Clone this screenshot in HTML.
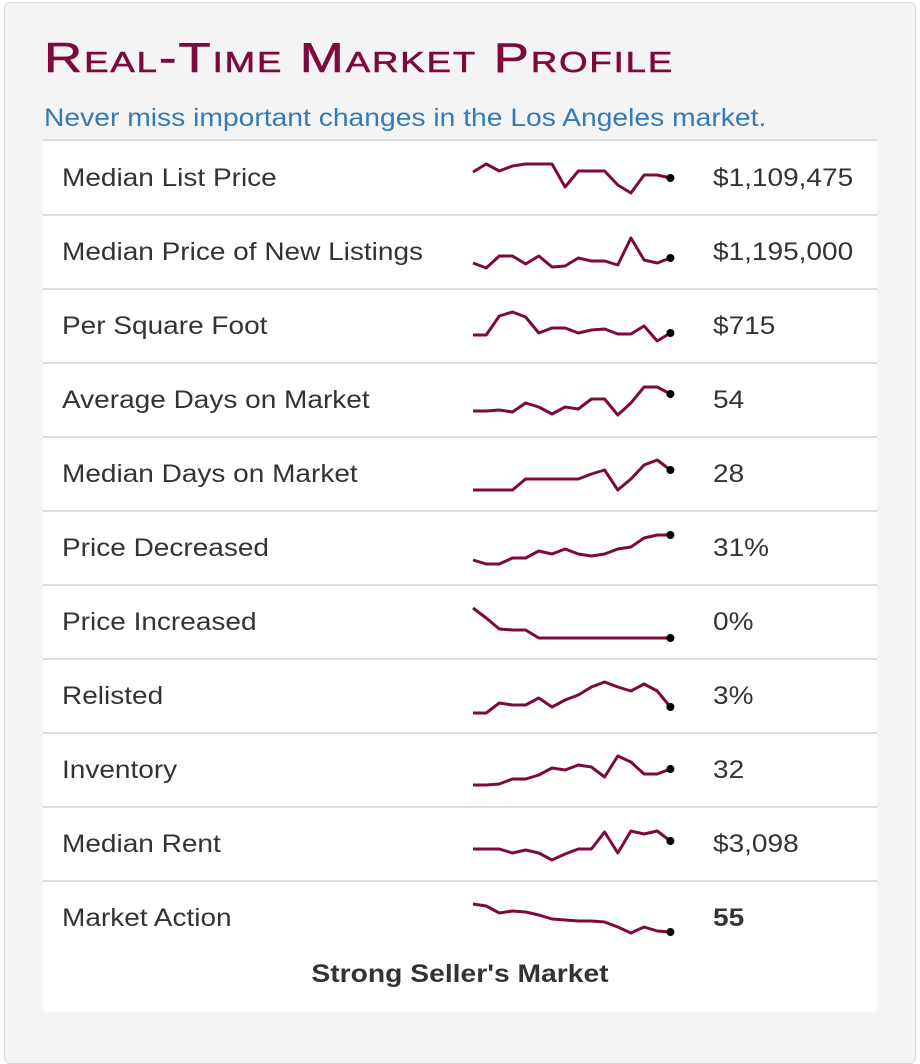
<!DOCTYPE html>
<html><head><meta charset="utf-8">
<style>
body{margin:0;width:920px;height:1046px;background:#fff;font-family:"Liberation Sans",sans-serif;overflow:hidden;position:relative}
#panel{position:absolute;left:4px;top:2px;width:910px;height:1060px;background:#f4f4f4;border:1px solid #ddd;border-radius:6px}
#title{position:absolute;left:44px;top:34px;font-size:42px;color:#7c0a3c;font-variant:small-caps;letter-spacing:1.5px;font-weight:normal;white-space:nowrap;transform:scaleX(1.26);transform-origin:left;-webkit-text-stroke:0.6px #7c0a3c}
#sub{position:absolute;left:44px;top:104px;font-size:25px;color:#337ab7;white-space:nowrap;transform:scaleX(1.13);transform-origin:left}
#card{position:absolute;left:43px;top:139px;width:834px;height:871px;background:#fff;border-top:2px solid #ddd;border-radius:0 0 6px 6px}
.row{position:absolute;left:0;width:834px;height:73px;border-bottom:2px solid #ddd}
.lab{position:absolute;left:19px;top:23px;font-size:25px;color:#333;white-space:nowrap;transform:scaleX(1.12);transform-origin:left}
.val{position:absolute;left:670px;top:23px;font-size:25px;color:#333;white-space:nowrap;transform:scaleX(1.12);transform-origin:left}
#foot{position:absolute;left:0;width:834px;top:819px;text-align:center;font-size:25px;font-weight:bold;color:#333;transform:scaleX(1.13)}
svg{position:absolute;left:0;top:0}
</style></head><body>
<div id="panel"></div>
<div id="title">Real-Time Market Profile</div>
<div id="sub">Never miss important changes in the Los Angeles market.</div>
<div id="card"><div id="foot">Strong Seller's Market</div></div>
<script>
const labels=["Median List Price","Median Price of New Listings","Per Square Foot","Average Days on Market","Median Days on Market","Price Decreased","Price Increased","Relisted","Inventory","Median Rent","Market Action"];
const values=["$1,109,475","$1,195,000","$715","54","28","31%","0%","3%","32","$3,098","55"];
const s1=[30,38,31,36,38,38,38,15,31,31,31,17,9,27,27,24];
const s2=[13,8,20,20,12,20,9,10,18,15,15,11,38,16,13,18];
const s3=[15,15,34,38,33,17,22,22,17,20,21,16,16,24,9,17];
const s4=[13,13,14,12,21,17,10,17,15,25,25,9,21,37,37,30];
const s5=[8,8,8,8,19,19,19,19,19,24,28,8,19,33,38,28];
const s6=[12,8,8,14,14,21,18,23,18,16,18,23,25,34,37,37];
const s7=[38,28,17,16,16,8,8,8,8,8,8,8,8,8,8,8];
const s8=[7,7,17,15,15,22,13,20,25,33,38,33,29,36,29,13];
const s9=[9,9,10,15,15,19,26,24,29,27,17,38,32,20,20,25];
const s10=[19,19,19,15,18,15,8,14,19,19,36,15,37,34,37,27];
const s11=[38,36,29,31,30,27,23,22,21,21,20,15,9,15,11,10];
const series=[s1,s2,s3,s4,s5,s6,s7,s8,s9,s10,s11];
const card=document.getElementById('card');
const NS="http://www.w3.org/2000/svg";
labels.forEach((l,i)=>{
  const r=document.createElement('div');r.className='row';r.style.top=(i*74)+'px';
  if(i==10){r.style.borderBottom='none';}
  
  
  const a=document.createElement('div');a.className='lab';a.textContent=l;
  
  
  const v=document.createElement('div');v.className='val';v.textContent=values[i];
  if(i==10)v.style.fontWeight='bold';
  
  
  const svg=document.createElementNS(NS,'svg');svg.setAttribute('width','834');svg.setAttribute('height','73');
  
  
  const d=series[i];
  const x=k=>430+k*(197.4/(d.length-1));
  const y=val=>61-val;
  const pts=d.map((val,k)=>x(k).toFixed(1)+','+y(val).toFixed(1)).join(' ');
  const pl=document.createElementNS(NS,'polyline');
  pl.setAttribute('points',pts);pl.setAttribute('fill','none');pl.setAttribute('stroke','#7c0a3c');pl.setAttribute('stroke-width','3');pl.setAttribute('stroke-linejoin','round');
  
  
  const c=document.createElementNS(NS,'circle');
  c.setAttribute('cx',x(d.length-1));c.setAttribute('cy',y(d[d.length-1]));c.setAttribute('r','4');c.setAttribute('fill','#000');
  
  
  svg.appendChild(pl);svg.appendChild(c);
  r.appendChild(a);r.appendChild(svg);r.appendChild(v);card.appendChild(r);
});
</script>
</body></html>
